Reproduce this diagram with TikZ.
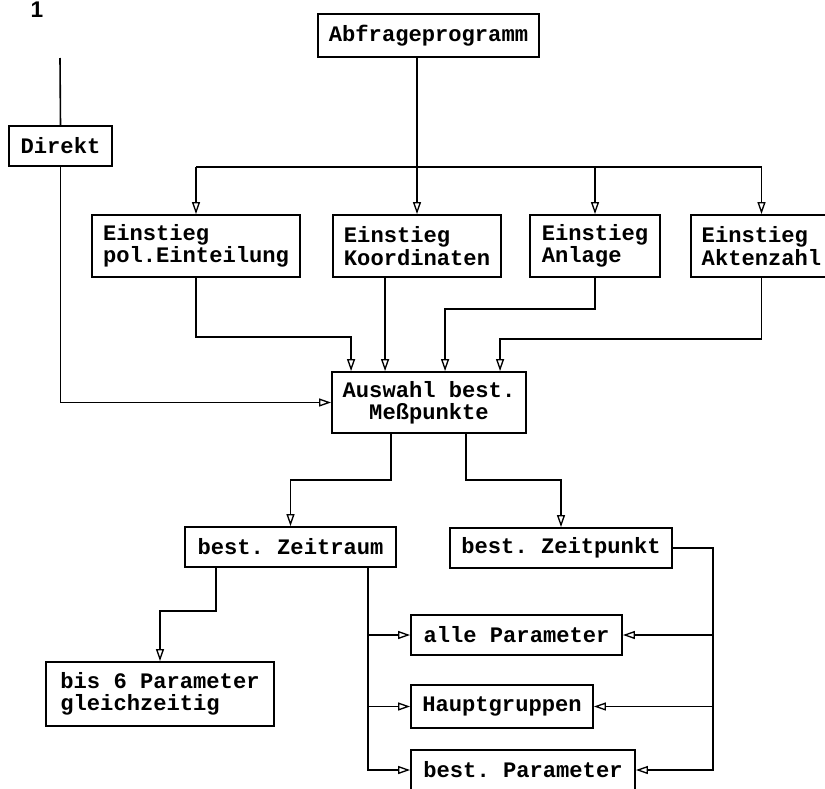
\documentclass[tikz,border=0pt]{standalone}
\usepackage{fontspec}
\setmonofont{Liberation Mono}
\setsansfont{Liberation Sans}
\usetikzlibrary{arrows.meta,calc}
\begin{document}
\begin{tikzpicture}[x=0.75pt,y=-0.75pt,
  box/.style={draw,line width=1.4pt,font=\ttfamily\bfseries\fontsize{16.6}{16.8}\selectfont,inner sep=2pt},
  lft/.style={align=left},
  ctr/.style={align=center},
  con/.style={line width=1.2pt},
  arr/.style={con,-{Triangle[open,length=9pt,width=6pt,line width=1pt]}}]
\fill[white] (0,0) rectangle (825,789);
\useasboundingbox (0,0) rectangle (825,789);
% title digit
\node[font=\sffamily\bfseries\fontsize{17}{17}\selectfont,anchor=base,inner sep=0pt] (one) at (37,17) {1};
% boxes
\node[box,minimum width=221*0.75pt,minimum height=43*0.75pt] (abfrage) at (428.5,35.5) {Abfrageprogramm};
\node[box,minimum width=103*0.75pt,minimum height=40*0.75pt] (direkt) at (60.5,146) {Direkt};
\node[box,lft,minimum width=208*0.75pt,minimum height=62*0.75pt] (pol) at (196,246) {Einstieg\\pol.Einteilung};
\node[box,lft,minimum width=168*0.75pt,minimum height=62*0.75pt] (kord) at (417,246) {Einstieg\\Koordinaten};
\node[box,lft,minimum width=130*0.75pt,minimum height=62*0.75pt] (anl) at (595,246) {Einstieg\\Anlage};
\node[box,lft,minimum width=141*0.75pt,minimum height=62*0.75pt] (akt) at (761.5,246) {Einstieg\\Aktenzahl};
\node[box,ctr,minimum width=194*0.75pt,minimum height=61*0.75pt] (auswahl) at (429,402.5) {Auswahl best.\\Meßpunkte};
\node[box,minimum width=211*0.75pt,minimum height=40*0.75pt] (zr) at (290.5,547) {best. Zeitraum};
\node[box,minimum width=222*0.75pt,minimum height=40*0.75pt] (zp) at (561,548) {best. Zeitpunkt};
\node[box,lft,minimum width=228*0.75pt,minimum height=64*0.75pt] (bis) at (160,694) {bis 6 Parameter\\gleichzeitig};
\node[box,minimum width=211*0.75pt,minimum height=40*0.75pt] (alle) at (516.5,635) {alle Parameter};
\node[box,minimum width=182*0.75pt,minimum height=43*0.75pt] (haupt) at (502,706.5) {Hauptgruppen};
\node[box,minimum width=224*0.75pt,minimum height=40*0.75pt] (bpar) at (523,770) {best. Parameter};
% helper coordinates
\coordinate (top) at (60,58);
\coordinate (bus) at (0,167);
\coordinate (in1) at ($(auswahl.north west)+(20,0)$);
\coordinate (in2) at ($(auswahl.north west)+(54,0)$);
\coordinate (in3) at ($(auswahl.north west)+(114,0)$);
\coordinate (in4) at ($(auswahl.north west)+(169,0)$);
\coordinate (o1) at ($(auswahl.south west)+(60,0)$);
\coordinate (o2) at ($(auswahl.south west)+(135,0)$);
\coordinate (zr1) at ($(zr.south west)+(32,0)$);
\coordinate (zr2) at ($(zr.south west)+(184,0)$);
% direct path
\draw[con] (top) -- (direkt.north);
\draw[arr] (direkt.south) |- (auswahl.west);
% query program to entries
\draw[con] (abfrage.south -| kord.north) -- (kord.north |- bus);
\draw[con] (pol.north |- bus) -- (akt.north |- bus);
\draw[arr] (pol.north |- bus) -- (pol.north);
\draw[arr] (kord.north |- bus) -- (kord.north);
\draw[arr] (anl.north |- bus) -- (anl.north);
\draw[arr] (akt.north |- bus) -- (akt.north);
% entries to selection
\draw[arr] (pol.south) -- ++(0,59) -| (in1);
\draw[arr] (kord.south -| in2) -- (in2);
\draw[arr] (anl.south) -- ++(0,31) -| (in3);
\draw[arr] (akt.south) -- ++(0,61) -| (in4);
% selection to time
\draw[arr] (o1) -- ++(0,46) -| (zr.north);
\draw[arr] (o2) -- ++(0,46) -| (zp.north);
% Zeitraum
\draw[arr] (zr1) -- ++(0,43) -| (bis.north);
\draw[arr] (zr2) |- (alle.west);
\draw[arr] (zr2) |- (haupt.west);
\draw[arr] (zr2) |- (bpar.west);
% Zeitpunkt
\draw[arr] (zp.east) -- ++(40,0) |- (alle.east);
\draw[arr] (zp.east) -- ++(40,0) |- (haupt.east);
\draw[arr] (zp.east) -- ++(40,0) |- (bpar.east);
\end{tikzpicture}
\end{document}
